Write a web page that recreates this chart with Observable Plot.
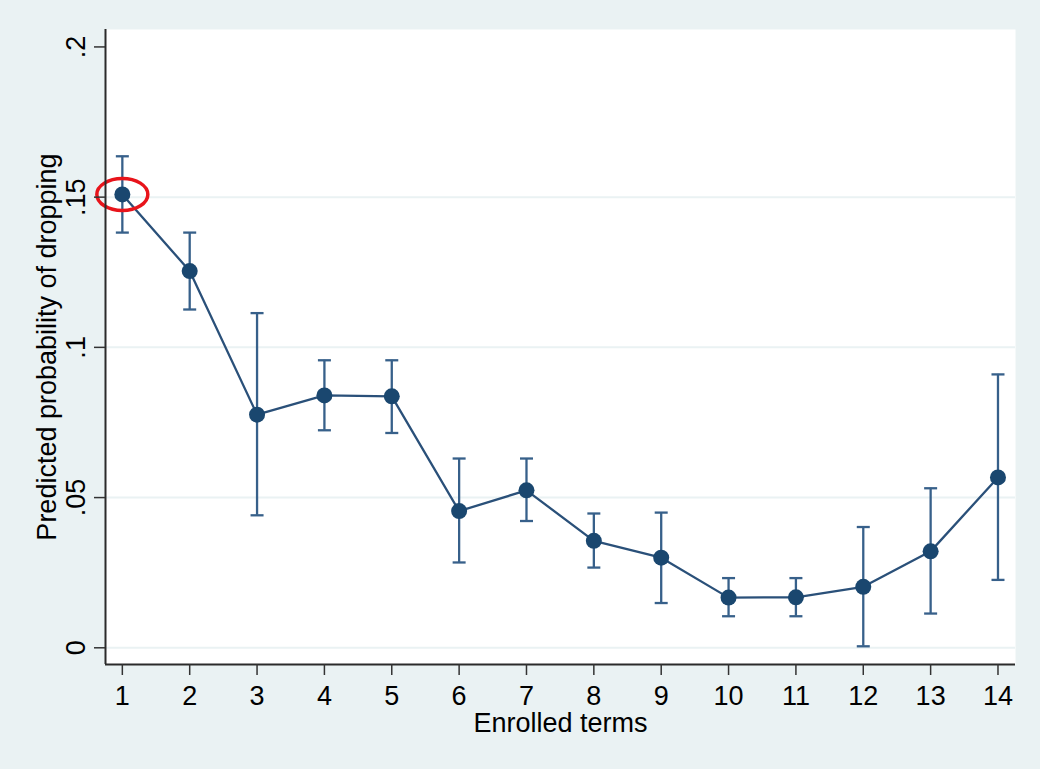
<!DOCTYPE html>
<html>
<head>
<meta charset="utf-8">
<script src="https://cdn.jsdelivr.net/npm/d3@7"></script>
<script src="https://cdn.jsdelivr.net/npm/@observablehq/plot@0.6"></script>
<style>
  html, body { margin: 0; padding: 0; background: #eaf2f3; overflow: hidden; }
  #chart svg { display: block; }
</style>
</head>
<body>
<div id="chart"></div>
<script>
// ---- data ----
const terms = [1, 2, 3, 4, 5, 6, 7, 8, 9, 10, 11, 12, 13, 14];
const prob  = [0.1509, 0.1254, 0.0776, 0.0840, 0.0837, 0.0455, 0.0524, 0.0356, 0.0300, 0.0167, 0.0168, 0.0203, 0.0321, 0.0567];
const lower = [0.1382, 0.1126, 0.0441, 0.0724, 0.0715, 0.0284, 0.0422, 0.0267, 0.0149, 0.0105, 0.0105, 0.0005, 0.0114, 0.0226];
const upper = [0.1636, 0.1382, 0.1114, 0.0957, 0.0957, 0.0630, 0.0630, 0.0447, 0.0450, 0.0232, 0.0232, 0.0402, 0.0531, 0.0910];
const yTicks = [0, 0.05, 0.1, 0.15, 0.2];
const yTickLabels = ["0", ".05", ".1", ".15", ".2"];
const yGrid = [0, 0.05, 0.1, 0.15];
const xTitle = "Enrolled terms";
const yTitle = "Predicted probability of dropping";
const highlightTerm = [1];

const rows = terms.map((t, i) => ({term: t, p: prob[i], lo: lower[i], hi: upper[i]}));
const highlight = rows.filter(d => highlightTerm.includes(d.term));
const yLabelRows = yTicks.map((v, i) => ({v, label: yTickLabels[i]}));

const xDomain = [0.75, 14.26];
const yDomain = [-0.00556, 0.2058];

const navy = "#1a476f";
const barColor = "#37608a";
const fs = 27;

// horizontal cap symbol for error bars
const capSymbol = {
  draw(ctx, size) {
    const r = Math.sqrt(size / Math.PI);
    ctx.moveTo(-r, 0);
    ctx.lineTo(r, 0);
  }
};
// ellipse symbol (for the red highlight)
const ellipseSymbol = {
  draw(ctx, size) {
    const rx = Math.sqrt(size / Math.PI);
    const ry = rx * 16 / 25.5;
    const k = 0.5522847498;
    ctx.moveTo(rx, 0);
    ctx.bezierCurveTo(rx, ry * k, rx * k, ry, 0, ry);
    ctx.bezierCurveTo(-rx * k, ry, -rx, ry * k, -rx, 0);
    ctx.bezierCurveTo(-rx, -ry * k, -rx * k, -ry, 0, -ry);
    ctx.bezierCurveTo(rx * k, -ry, rx, -ry * k, rx, 0);
    ctx.closePath();
  }
};

const plot = Plot.plot({
  width: 1040,
  height: 769,
  marginLeft: 105,
  marginRight: 25,
  marginTop: 29,
  marginBottom: 105,
  style: {
    background: "#eaf2f3",
    fontFamily: "'Liberation Sans', Arial, sans-serif",
    fontSize: fs + "px",
    color: "#000"
  },
  x: {domain: xDomain},
  y: {domain: yDomain},
  marks: [
    Plot.frame({fill: "white", stroke: null}),
    Plot.ruleY(yGrid, {stroke: "#eaf2f3", strokeWidth: 2}),
    // error bars
    Plot.ruleX(rows, {x: "term", y1: "lo", y2: "hi", stroke: barColor, strokeWidth: 2.3}),
    Plot.dot(rows, {x: "term", y: "lo", symbol: capSymbol, r: 6.5, stroke: barColor, strokeWidth: 2.3, fill: "none"}),
    Plot.dot(rows, {x: "term", y: "hi", symbol: capSymbol, r: 6.5, stroke: barColor, strokeWidth: 2.3, fill: "none"}),
    // connected line
    Plot.line(rows, {x: "term", y: "p", stroke: "#2a5079", strokeWidth: 2.3}),
    Plot.dot(rows, {x: "term", y: "p", r: 8, fill: navy, stroke: null}),
    // highlight ellipse
    Plot.dot(highlight, {x: "term", y: "p", symbol: ellipseSymbol, r: 25.5, stroke: "#e8141b", strokeWidth: 3.5, fill: "none"}),
    // axes lines
    Plot.ruleX([xDomain[0]], {stroke: "#2b2b2b", strokeWidth: 2}),
    Plot.ruleY([yDomain[0]], {stroke: "#2b2b2b", strokeWidth: 2}),
    // axes
    Plot.axisX({ticks: terms, tickSize: 11, tickPadding: 10, tickFormat: d => String(d), label: null, stroke: "#333", strokeWidth: 1.5, fontSize: fs, fill: "#000"}),
    Plot.axisY({ticks: yTicks, tickSize: 11, tickFormat: () => "", label: null, stroke: "#333", strokeWidth: 1.5}),
    Plot.text(yLabelRows, {y: "v", text: "label", frameAnchor: "left", dx: -29, rotate: -90, textAnchor: "middle", lineAnchor: "middle", fontSize: fs, fill: "#000"}),
    // titles
    Plot.text([yTitle], {frameAnchor: "left", dx: -58, rotate: -90, textAnchor: "middle", lineAnchor: "middle", fontSize: fs, fill: "#000"}),
    Plot.text([xTitle], {frameAnchor: "bottom", dy: 59, textAnchor: "middle", lineAnchor: "middle", fontSize: fs, fill: "#000"})
  ]
});
document.getElementById("chart").appendChild(plot);
</script>
</body>
</html>
